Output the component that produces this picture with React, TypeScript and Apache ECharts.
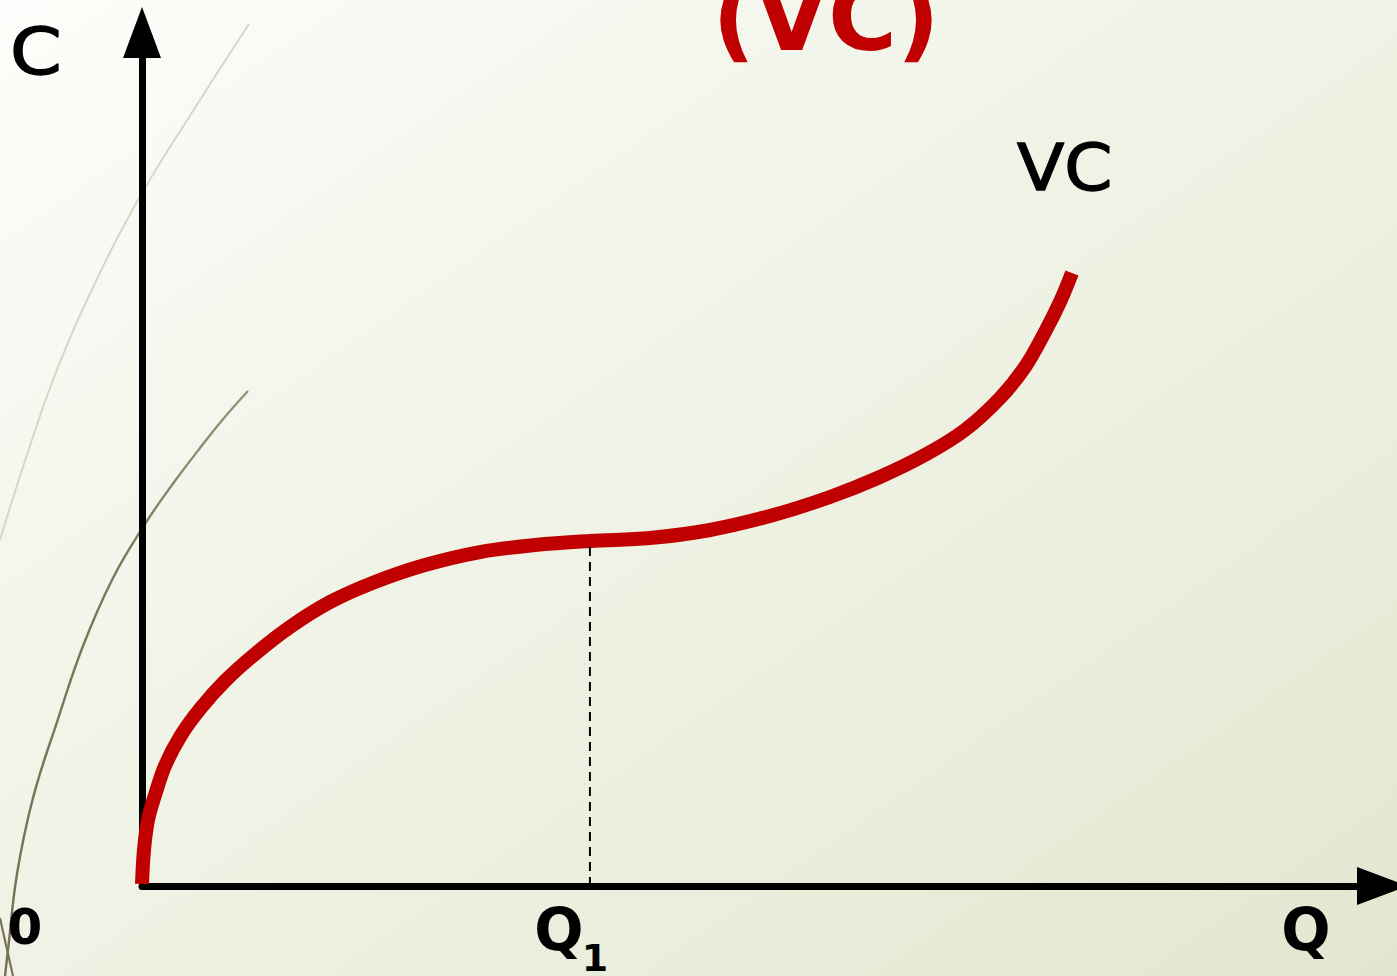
import { useEffect, useRef } from 'react';
import * as echarts from 'echarts';

// Output quantity Q and variable cost VC along the S-shaped cost curve
const qValues = [0, 0.16, 0.48, 1.05, 1.85, 3.06, 4.68, 6.69, 9.11, 11.93, 15.16, 18.78, 22.81, 27.25, 31.68, 36.11, 40.95, 45.79, 50.62, 55.46, 59.49, 63.12, 66.34, 69.17, 71.18, 72.79, 74.0, 74.97];
const vcValues = [0.23, 4.22, 7.73, 10.66, 14.06, 17.46, 20.74, 24.02, 27.18, 30.35, 33.27, 35.62, 37.61, 39.13, 39.95, 40.42, 40.77, 41.71, 43.35, 45.58, 47.92, 50.5, 53.43, 57.18, 60.81, 64.91, 68.42, 71.82];

// Inflection point of the curve (Q1)
const q1Index = 15;

const axisRange = [0, 100];

const titleText = '(VC)';
const curveName = 'VC';
const yAxisName = 'C';
const xAxisName = 'Q';
const originText = '0';
const q1Text = 'Q';
const q1Subscript = '1';

// Decorative template strokes on the left edge
const lightStroke = [[249, 24], [200, 100], [138, 200], [87, 300], [53, 380], [22, 470], [0, 540]];
const darkStroke = [[248, 391], [224, 418], [200, 448], [172, 485], [145, 524], [113, 578], [83, 646], [57, 722], [33, 798], [17, 874], [8, 950], [5, 976]];
const cornerStroke = [[0, 918], [6, 945], [13, 976]];

const FONT = 'DejaVu Sans';
const RED = '#c00000';

type TextOpts = {
  weight?: string;
  color?: string;
  align?: string;
  scaleX?: number;
  border?: number;
};

const text = (x: number, y: number, t: string, size: number, o: TextOpts = {}) => {
  const align = o.align ?? 'left';
  const color = o.color ?? '#000';
  return {
    type: 'text',
    x,
    y,
    scaleX: o.scaleX ?? 1,
    silent: true,
    z: 10,
    style: {
      text: t,
      fontSize: size,
      fontFamily: FONT,
      fontWeight: o.weight ?? 'normal',
      fill: color,
      stroke: o.border ? color : undefined,
      lineWidth: o.border ?? 0,
      align,
      textAlign: align,
      verticalAlign: 'middle',
      textVerticalAlign: 'middle',
    },
  };
};

export default function App() {
  const ref = useRef<HTMLDivElement>(null);

  useEffect(() => {
    const chart = echarts.init(ref.current!, null, { renderer: 'svg' });
    const q1 = qValues[q1Index];
    const vcAtQ1 = vcValues[q1Index];

    const axisLine = {
      show: true,
      onZero: false,
      symbol: ['none', 'triangle'],
      symbolSize: [38, 51],
      lineStyle: { color: '#000', width: 7 },
    };

    chart.setOption({
      animation: false,
      backgroundColor: 'transparent',
      grid: { left: 142, right: 14.5, top: 32.5, bottom: 90 },
      xAxis: {
        type: 'value',
        min: axisRange[0],
        max: axisRange[1],
        axisLine,
        axisTick: { show: false },
        axisLabel: { show: false },
        splitLine: { show: false },
      },
      yAxis: {
        type: 'value',
        min: axisRange[0],
        max: axisRange[1],
        axisLine,
        axisTick: { show: false },
        axisLabel: { show: false },
        splitLine: { show: false },
      },
      series: [
        {
          name: curveName,
          type: 'line',
          data: qValues.map((q, i) => [q, vcValues[i]]),
          smooth: 0.35,
          symbol: 'none',
          clip: false,
          z: 3,
          lineStyle: { color: RED, width: 14, cap: 'butt' },
        },
        {
          type: 'line',
          data: [[q1, 0], [q1, vcAtQ1]],
          symbol: 'none',
          z: 4,
          lineStyle: { color: '#000', width: 2, type: [9, 6] },
        },
      ],
    });

    // Q1 label placed at the axis position of Q1
    const [qx, qy] = chart.convertToPixel({ gridIndex: 0 }, [q1, 0]) as number[];

    chart.setOption({
      graphic: [
        {
          type: 'polyline',
          silent: true,
          z: -1,
          shape: { points: lightStroke, smooth: 0.4 },
          style: { stroke: '#d6d7c6', lineWidth: 2, fill: null },
        },
        {
          type: 'polyline',
          silent: true,
          z: -1,
          shape: { points: darkStroke, smooth: 0.4 },
          style: {
            fill: null,
            lineWidth: 2.4,
            stroke: {
              type: 'linear',
              x: 0,
              y: 0,
              x2: 0,
              y2: 1,
              colorStops: [
                { offset: 0, color: '#9a9479' },
                { offset: 0.3, color: '#7d765a' },
                { offset: 1, color: '#777055' },
              ],
            },
          },
        },
        {
          type: 'polyline',
          silent: true,
          z: -1,
          shape: { points: cornerStroke, smooth: 0.4 },
          style: { stroke: '#7a7357', lineWidth: 2.2, fill: null },
        },
        text(826, 17, titleText, 94, { weight: 'bold', color: RED, align: 'center' }),
        text(10, 52, yAxisName, 64, { scaleX: 1.16, border: 1.4 }),
        text(1017, 168, curveName, 64, { scaleX: 1.08, border: 1.4 }),
        text(25, 927, originText, 50, { weight: 'bold', align: 'center' }),
        text(1306, 930, xAxisName, 58, { weight: 'bold', align: 'center' }),
        text(qx - 31, qy + 44, q1Text, 58, { weight: 'bold', align: 'center' }),
        text(qx + 5, qy + 72, q1Subscript, 38, { weight: 'bold', align: 'center' }),
      ],
    });

    return () => chart.dispose();
  }, []);

  return (
    <div
      ref={ref}
      style={{
        position: 'fixed',
        left: 0,
        top: 0,
        width: 1397,
        height: 976,
        background: 'linear-gradient(to bottom right, #fdfdfb 0%, #f2f5ea 35%, #eaeedc 70%, #e1e7cf 100%)',
      }}
    />
  );
}
